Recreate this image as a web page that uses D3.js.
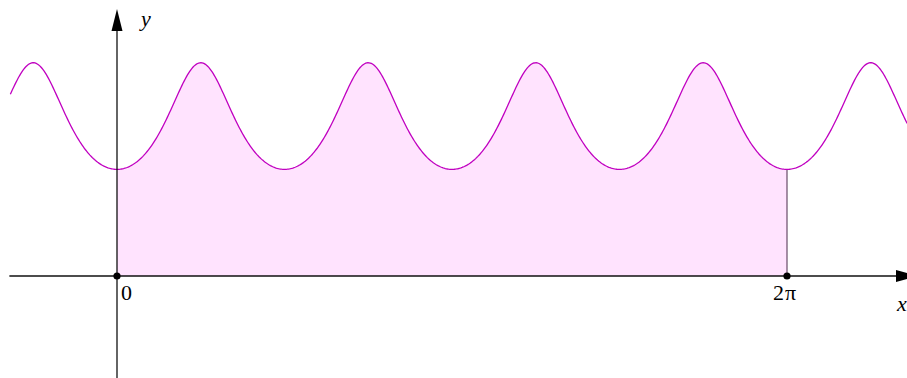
<!DOCTYPE html>
<html>
<head>
<meta charset="utf-8">
<script src="https://cdn.jsdelivr.net/npm/d3@7"></script>
<style>
  html, body { margin: 0; padding: 0; background: #fff; }
  svg { display: block; }
  text { font-family: "Liberation Serif", "DejaVu Serif", serif; fill: #000; }
</style>
</head>
<body>
<div id="chart"></div>
<script>
// plotted function: y = 1 / (1 - k * sin^2(w x))
var curveK = 0.5;
var curveW = 2;
var xRange = [-1, 7.41];       // data extent of the x axis / curve
var yRange = [-0.96, 2.51];    // data extent of the y axis
var fillFrom = 0, fillTo = 2 * Math.PI;
var pointXs = [0, 2 * Math.PI];
var tickLabels = ["0", "2π"];
var axisNames = ["x", "y"];

var width = 907, height = 378;
var f = x => 1 / (1 - curveK * Math.pow(Math.sin(curveW * x), 2));

var x = d3.scaleLinear().domain([0, 2 * Math.PI]).range([117, 787]);
var unit = x(1) - x(0);
var y = d3.scaleLinear().domain([0, 1]).range([276, 276 - unit]);

var svg = d3.select("#chart").append("svg")
    .attr("width", width)
    .attr("height", height);

// area under curve
var fillPts = d3.range(0, 401).map(i => fillFrom + (fillTo - fillFrom) * i / 400);
svg.append("path")
    .datum(fillPts)
    .attr("fill", "#ffe3fe")
    .attr("d", d3.area().x(d => x(d)).y0(y(0)).y1(d => y(f(d))));

// right edge of the region
svg.append("line")
    .attr("x1", x(fillTo)).attr("x2", x(fillTo))
    .attr("y1", y(0)).attr("y2", y(f(fillTo)))
    .attr("stroke", "#4a2a4a").attr("stroke-width", 1);

// curve
var curvePts = d3.range(0, 801).map(i => xRange[0] + (xRange[1] - xRange[0]) * i / 800);
svg.append("path")
    .datum(curvePts)
    .attr("fill", "none")
    .attr("stroke", "#c000c0")
    .attr("stroke-width", 1.3)
    .attr("d", d3.line().x(d => x(d)).y(d => y(f(d))));

// axes
svg.append("line")
    .attr("x1", x(xRange[0]) - 1).attr("x2", 900)
    .attr("y1", y(0)).attr("y2", y(0))
    .attr("stroke", "#111").attr("stroke-width", 1.3);
svg.append("line")
    .attr("x1", x(0)).attr("x2", x(0))
    .attr("y1", y(yRange[0])).attr("y2", 24)
    .attr("stroke", "#111").attr("stroke-width", 1.3);

// arrow heads
svg.append("path")
    .attr("d", `M${x(0)},9 L${x(0) - 5.5},31 L${x(0) + 5.5},31 Z`)
    .attr("fill", "#000");
svg.append("path")
    .attr("d", `M918,${y(0)} L896,${y(0) - 6} L896,${y(0) + 6} Z`)
    .attr("fill", "#000");

// points on the axis
svg.selectAll("circle.pt")
    .data(pointXs)
    .join("circle")
    .attr("class", "pt")
    .attr("cx", d => x(d)).attr("cy", y(0))
    .attr("r", 3.6)
    .attr("fill", "#000");

// tick labels
svg.append("text")
    .attr("x", x(pointXs[0]) + 4).attr("y", 300)
    .attr("font-size", 22)
    .text(tickLabels[0]);
svg.append("text")
    .attr("x", x(pointXs[1]) - 2).attr("y", 300)
    .attr("text-anchor", "middle")
    .attr("font-size", 22)
    .attr("letter-spacing", 1)
    .text(tickLabels[1]);

// axis names
svg.append("text")
    .attr("x", 897).attr("y", 311)
    .attr("font-size", 22).attr("font-style", "italic")
    .text(axisNames[0]);
svg.append("text")
    .attr("x", 141).attr("y", 26)
    .attr("font-size", 22).attr("font-style", "italic")
    .text(axisNames[1]);
</script>
</body>
</html>
